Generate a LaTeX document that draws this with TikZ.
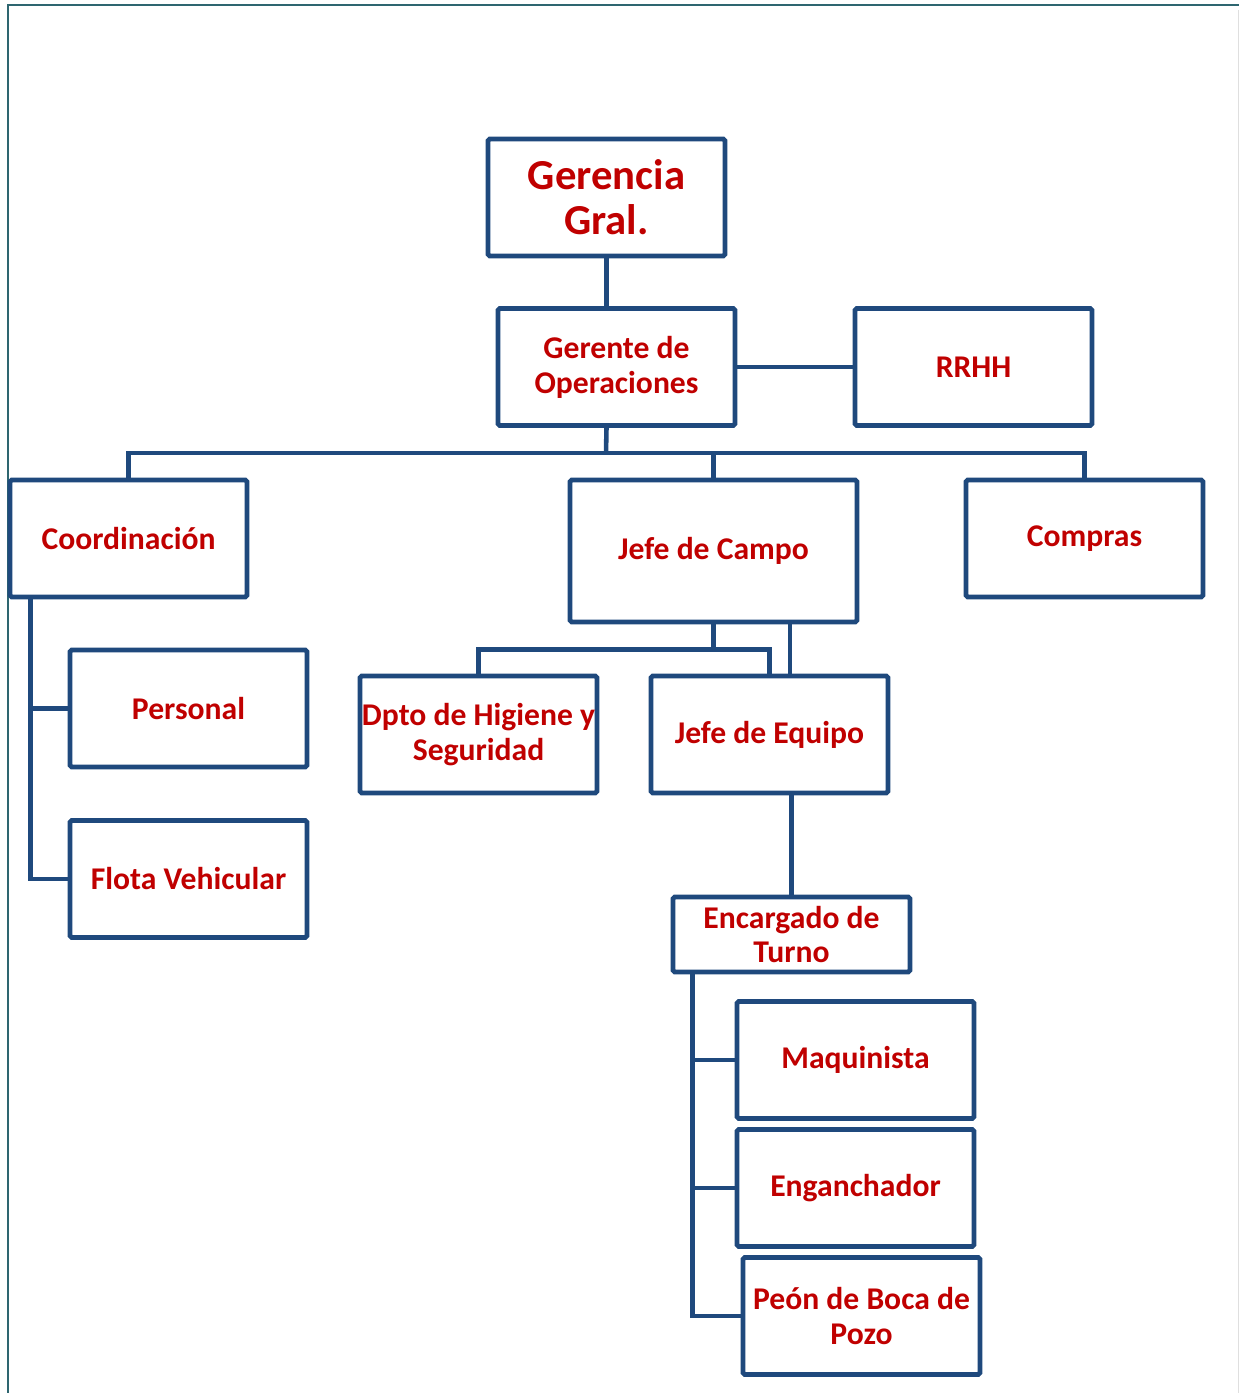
\documentclass[tikz,border=0pt]{standalone}
\usepackage{fontspec}
\setmainfont{Carlito}
\usepackage{tikz}
\usetikzlibrary{positioning}
\definecolor{boxblue}{RGB}{31,73,125}
\definecolor{textred}{RGB}{192,0,0}
\definecolor{frameteal}{RGB}{46,102,112}

\begin{document}
\begin{tikzpicture}[
        orgbox/.style={rectangle, rounded corners=1pt, draw=boxblue, line width=2.7pt, fill=white, minimum width=4.74cm, minimum height=2.34cm, align=center, text=textred, font=\fontsize{18}{19.8}\selectfont\bfseries, inner sep=1pt},
        topbox/.style={orgbox, font=\fontsize{24.3}{25.5}\selectfont\bfseries},
        conn/.style={draw=boxblue, line width=2.6pt},
        frame/.style={draw=frameteal, line width=1.7pt},
    ]
        \useasboundingbox (0,0) rectangle (24.78,-27.86);

        % Frame
        \draw[frame] (0.16,-27.86) -- (0.16,-0.1) -- (24.78,-0.1);
        \draw[gray!25, line width=0.4pt] (24.76,-0.2) -- (24.76,-27.86);

        % Top levels
        \node[topbox] (gg) at (12.13,-3.95) {Gerencia\\Gral.};
        \node[orgbox] (go) at (12.33,-7.34) {Gerente de\\Operaciones};
        \node[orgbox] (rrhh) at (19.47,-7.34) {RRHH};

        % Second level
        \node[orgbox] (coord) at (2.57,-10.77) {Coordinación};
        \node[orgbox, minimum width=5.74cm, minimum height=2.84cm] (jc) at (14.27,-11.02) {Jefe de Campo};
        \node[orgbox] (compras) at (21.69,-10.77) {Compras};

        % Under Coordinacion
        \node[orgbox] (personal) at (3.77,-14.17) {Personal};
        \node[orgbox] (flota) at (3.77,-17.58) {Flota Vehicular};

        % Under Jefe de Campo
        \node[orgbox] (dpto) at (9.57,-14.69) {Dpto de Higiene y\\Seguridad};
        \node[orgbox] (je) at (15.39,-14.69) {Jefe de Equipo};
        \node[orgbox, minimum height=1.5cm] (enc) at (15.83,-18.69) {Encargado de\\Turno};

        % Crew
        \node[orgbox] (maq) at (17.11,-21.2) {Maquinista};
        \node[orgbox] (eng) at (17.11,-23.76) {Enganchador};
        \node[orgbox] (peon) at (17.23,-26.32) {Peón de Boca de\\Pozo};

        % Connectors top
        \draw[conn] (gg.south) -- (gg.south |- go.north);
        \draw[conn] (go.east) -- (rrhh.west);
        \coordinate (bus) at (12.12,-9.06);
        \draw[conn] (gg.south |- go.south) -- (bus);
        \draw[conn] (coord.north) |- (bus) -| (compras.north);
        \draw[conn] (jc.north) -- (jc.north |- bus);

        % Coordinacion branch
        \coordinate (cline) at ([xshift=0.46cm]coord.south west);
        \draw[conn] (cline) |- (flota.west);
        \draw[conn] (cline |- personal.west) -- (personal.west);

        % Jefe de Campo branch
        \coordinate (jcbus) at ([yshift=-0.5cm]jc.south);
        \draw[conn] (jc.south) -- (jcbus);
        \draw[conn] (dpto.north) |- (jcbus) -| (je.north);
        \draw[conn] ([xshift=1.53cm]jc.south) -- ([xshift=1.53cm]jc.south |- je.north);
        \draw[conn] (enc.north |- je.south) -- (enc.north);

        % Encargado branch
        \coordinate (eline) at ([xshift=0.44cm]enc.south west);
        \draw[conn] (eline) |- (peon.west);
        \draw[conn] (eline |- maq.west) -- (maq.west);
        \draw[conn] (eline |- eng.west) -- (eng.west);
    \end{tikzpicture}
\end{document}
